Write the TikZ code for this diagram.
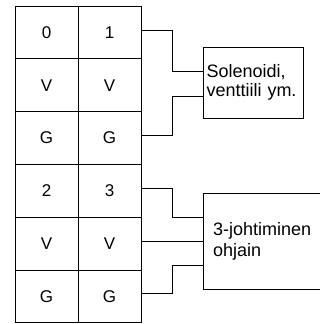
\documentclass[tikz,border=0pt]{standalone}
\usepackage{fontspec}
\setmainfont{Liberation Sans}
\usetikzlibrary{positioning}

\begin{document}
\begin{tikzpicture}[x=1pt, y=-1pt, line width=0.9pt,
    cellnode/.style={rectangle, draw=black, inner sep=0pt, outer sep=0pt, minimum width=63pt, minimum height=52.8pt, font=\fontsize{17}{19}\selectfont},
    boxnode/.style={rectangle, draw=black, outer sep=0pt, inner ysep=0pt, align=left, font=\fontsize{18}{19}\selectfont}
   ]
   \useasboundingbox (0,0) rectangle (320,324);
   \node[cellnode]  (zero)                      at (46.5,32.4) {0};
   \node[cellnode]  (one)    [right=0pt of zero]  {1};
   \node[cellnode]  (vA)     [below=0pt of zero]  {V};
   \node[cellnode]  (vB)     [right=0pt of vA]    {V};
   \node[cellnode]  (gA)     [below=0pt of vA]    {G};
   \node[cellnode]  (gB)     [right=0pt of gA]    {G};
   \node[cellnode]  (two)    [below=0pt of gA]    {2};
   \node[cellnode]  (three)  [right=0pt of two]   {3};
   \node[cellnode]  (vC)     [below=0pt of two]   {V};
   \node[cellnode]  (vD)     [right=0pt of vC]    {V};
   \node[cellnode]  (gC)     [below=0pt of vC]    {G};
   \node[cellnode]  (gD)     [right=0pt of gC]    {G};
   \node[boxnode, text width=93pt, inner xsep=3.5pt, minimum height=71pt]  (solenoid)   at (253,82.5) {Solenoidi,\\venttiili ym.};
   \node[boxnode, text width=102pt, inner xsep=10pt, minimum height=96pt] (controller) at (264,241) {3-johtiminen\\[2pt]ohjain};

  \draw ([yshift=1.5pt]one.east) -- ++(31,0) |- ([yshift=11.5pt]solenoid.west);
  \draw ([yshift=3pt]gB.east) -- ++(31,0) |- ([yshift=-13.5pt]solenoid.west);
  \draw ([yshift=2.8pt]three.east) -- ++(31,0) |- ([yshift=24pt]controller.west);
  \coordinate (mid) at ([yshift=2.6pt]vD.east);
  \draw (mid) -- (mid -| controller.west);
  \draw ([yshift=3.4pt]gD.east) -- ++(31,0) |- ([yshift=-24pt]controller.west);
 \end{tikzpicture}
\end{document}
